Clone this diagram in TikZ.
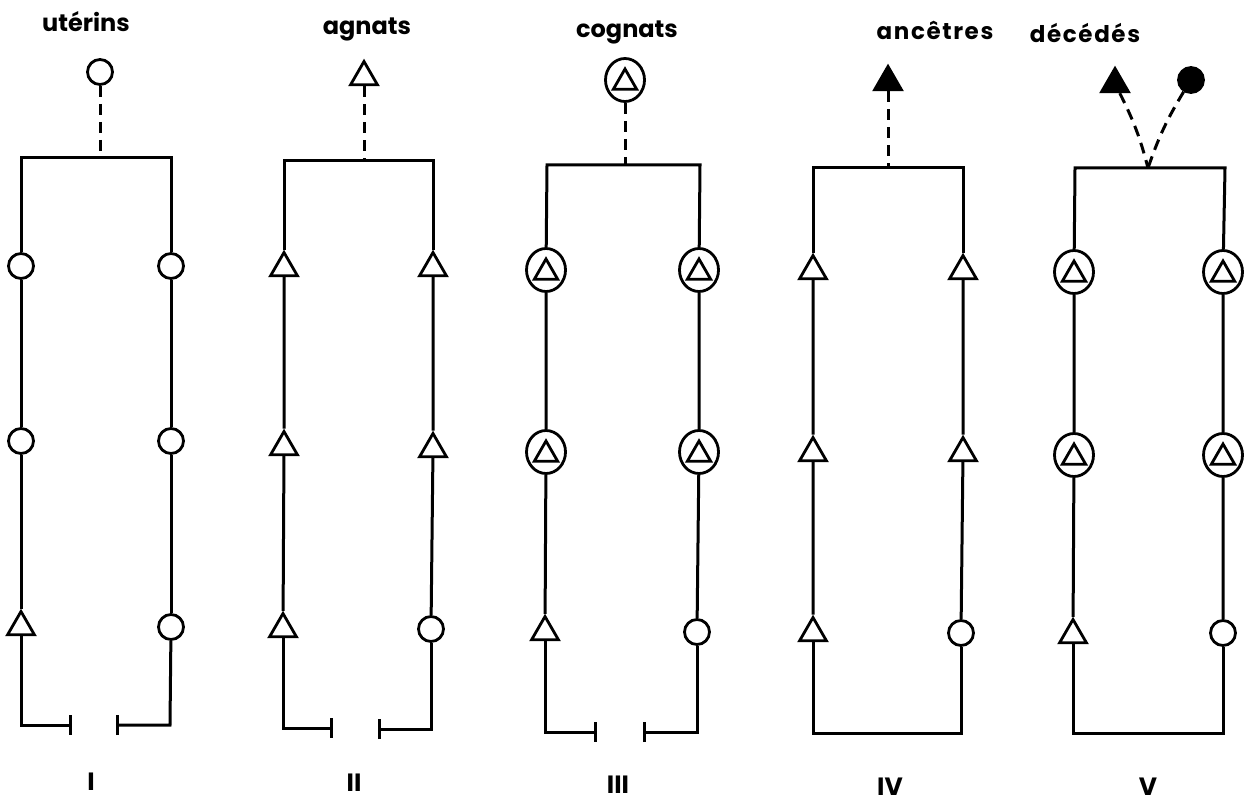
\documentclass[tikz,border=0pt]{standalone}
\usepackage{fontspec}
\setmainfont{Poppins}
\usetikzlibrary{shapes.geometric,arrows.meta}

\begin{document}
\begin{tikzpicture}[x=1pt,y=-1pt,line width=3pt,
  sym/.style={draw,fill=white,inner sep=0pt,line width=2.8pt},
  circ/.style={sym,circle,minimum size=25pt},
  tri/.style={sym,regular polygon,regular polygon sides=3,minimum size=31pt},
  ctri/.style={sym,ellipse,minimum width=39pt,minimum height=43pt,
    path picture={\node[tri,minimum size=27pt] at ([yshift=-2.5pt]path picture bounding box.center) {};}},
  ftri/.style={tri,fill=black},
  fcirc/.style={circ,fill=black,minimum size=25pt},
  link/.style={line width=3pt},
  descent/.style={line width=3pt,dash pattern=on 11pt off 7pt},
  gap/.style={line width=3pt,-{Bar[width=20pt,line width=3pt]}},
  title/.style={font=\bfseries\fontsize{24}{24}\selectfont,anchor=base},
  spaced/.style={font=\bfseries\fontsize{23}{23}\selectfont\addfontfeature{LetterSpace=7}},
  numeral/.style={font=\bfseries\fontsize{25}{25}\selectfont,anchor=base}]

\useasboundingbox (0,0) rectangle (1249,802);

% ---------- I : uterins ----------
\node[title] (tI) at (86,32) {utérins};
\node[circ] (Ia) at (100,72) {};
\coordinate (Itop) at (100,158);
\coordinate (Itl) at (21,158);
\coordinate (Itr) at (171,158);
\node[circ] (IL1) at (21,266) {};
\node[circ] (IL2) at (21,441) {};
\node[tri]  (IL3) at (21,627) {};
\node[circ] (IR1) at (171,266) {};
\node[circ] (IR2) at (171,441) {};
\node[circ] (IR3) at (171,627) {};
\coordinate (Ibl) at (21,725);
\coordinate (Ibr) at (170,725);
\coordinate (IgL) at (72,725);
\coordinate (IgR) at (116,725);
\draw[descent] (Ia) -- (Itop);
\draw[link] (IL1) -- (Itl) -- (Itr) -- (IR1);
\draw[link] (IL1) -- (IL2) (IL2) -- (IL3) (IR1) -- (IR2) (IR2) -- (IR3);
\draw[gap] (IL3) -- (Ibl) -- (IgL);
\draw[gap] (IR3) -- (Ibr) -- (IgR);
\node[numeral] (nI) at (91,790) {I};

% ---------- II : agnats ----------
\node[title] (tII) at (367,35) {agnats};
\node[tri] (IIa) at (364,77) {};
\coordinate (IItop) at (364,161);
\coordinate (IItl) at (284,161);
\coordinate (IItr) at (433,161);
\node[tri]  (IIL1) at (284,268) {};
\node[tri]  (IIL2) at (284,447) {};
\node[tri]  (IIL3) at (283,629) {};
\node[tri]  (IIR1) at (433,268) {};
\node[tri]  (IIR2) at (433,449) {};
\node[circ] (IIR3) at (431,629) {};
\coordinate (IIbl) at (283,728);
\coordinate (IIbr) at (431,729);
\coordinate (IIgL) at (333,728);
\coordinate (IIgR) at (378,729);
\draw[descent] (IIa) -- (IItop);
\draw[link] (IIL1) -- (IItl) -- (IItr) -- (IIR1);
\draw[link] (IIL1) -- (IIL2) (IIL2) -- (IIL3) (IIR1) -- (IIR2) (IIR2) -- (IIR3);
\draw[gap] (IIL3) -- (IIbl) -- (IIgL);
\draw[gap] (IIR3) -- (IIbr) -- (IIgR);
\node[numeral] (nII) at (354,791) {II};

% ---------- III : cognats ----------
\node[title] (tIII) at (627,38) {cognats};
\node[ctri] (IIIa) at (625,80) {};
\coordinate (IIItop) at (625,165);
\coordinate (IIItl) at (547,165);
\coordinate (IIItr) at (700,165);
\node[ctri] (IIIL1) at (546,270) {};
\node[ctri] (IIIL2) at (546,452) {};
\node[tri]  (IIIL3) at (545,632) {};
\node[ctri] (IIIR1) at (699,270) {};
\node[ctri] (IIIR2) at (699,452) {};
\node[circ] (IIIR3) at (697,632) {};
\coordinate (IIIbl) at (545,732);
\coordinate (IIIbr) at (697,732);
\coordinate (IIIgL) at (597,732);
\coordinate (IIIgR) at (643,732);
\draw[descent] (IIIa) -- (IIItop);
\draw[link] (IIIL1) -- (IIItl) -- (IIItr) -- (IIIR1);
\draw[link] (IIIL1) -- (IIIL2) (IIIL2) -- (IIIL3) (IIIR1) -- (IIIR2) (IIIR2) -- (IIIR3);
\draw[gap] (IIIL3) -- (IIIbl) -- (IIIgL);
\draw[gap] (IIIR3) -- (IIIbr) -- (IIIgR);
\node[numeral] (nIII) at (618,793) {III};

% ---------- IV : ancetres ----------
\node[title,spaced] (tIV) at (935,40) {ancêtres};
\node[ftri] (IVa) at (888,82) {};
\coordinate (IVtop) at (888,168);
\coordinate (IVtl) at (813,168);
\coordinate (IVtr) at (963,168);
\node[tri]  (IVL1) at (813,271) {};
\node[tri]  (IVL2) at (813,453) {};
\node[tri]  (IVL3) at (813,633) {};
\node[tri]  (IVR1) at (963,271) {};
\node[tri]  (IVR2) at (963,453) {};
\node[circ] (IVR3) at (961,633) {};
\coordinate (IVbl) at (813,733);
\coordinate (IVbr) at (961,733);
\draw[descent] (IVa) -- (IVtop);
\draw[link] (IVL1) -- (IVtl) -- (IVtr) -- (IVR1);
\draw[link] (IVL1) -- (IVL2) (IVL2) -- (IVL3) (IVR1) -- (IVR2) (IVR2) -- (IVR3);
\draw[link] (IVL3) -- (IVbl) -- (IVbr) -- (IVR3);
\node[numeral] (nIV) at (890,795) {IV};

% ---------- V : decedes ----------
\node[title,spaced] (tV) at (1085,43) {décédés};
\node[ftri]  (Va) at (1115,84) {};
\node[fcirc] (Vb) at (1191,80) {};
\coordinate (Vtop) at (1148,168);
\coordinate (Vtl) at (1075,168);
\coordinate (Vtr) at (1225,168);
\node[ctri] (VL1) at (1074,272) {};
\node[ctri] (VL2) at (1074,455) {};
\node[tri]  (VL3) at (1073,635) {};
\node[ctri] (VR1) at (1223,272) {};
\node[ctri] (VR2) at (1223,455) {};
\node[circ] (VR3) at (1223,633) {};
\coordinate (Vbl) at (1073,733);
\coordinate (Vbr) at (1223,733);
\draw[descent] (Va) to[bend left=6] (Vtop);
\draw[descent] (Vb) to[bend right=6] (Vtop);
\draw[link] (VL1) -- (Vtl) -- (Vtr) -- (VR1);
\draw[link] (VL1) -- (VL2) (VL2) -- (VL3) (VR1) -- (VR2) (VR2) -- (VR3);
\draw[link] (VL3) -- (Vbl) -- (Vbr) -- (VR3);
\node[numeral] (nV) at (1148,795) {V};
\end{tikzpicture}
\end{document}
